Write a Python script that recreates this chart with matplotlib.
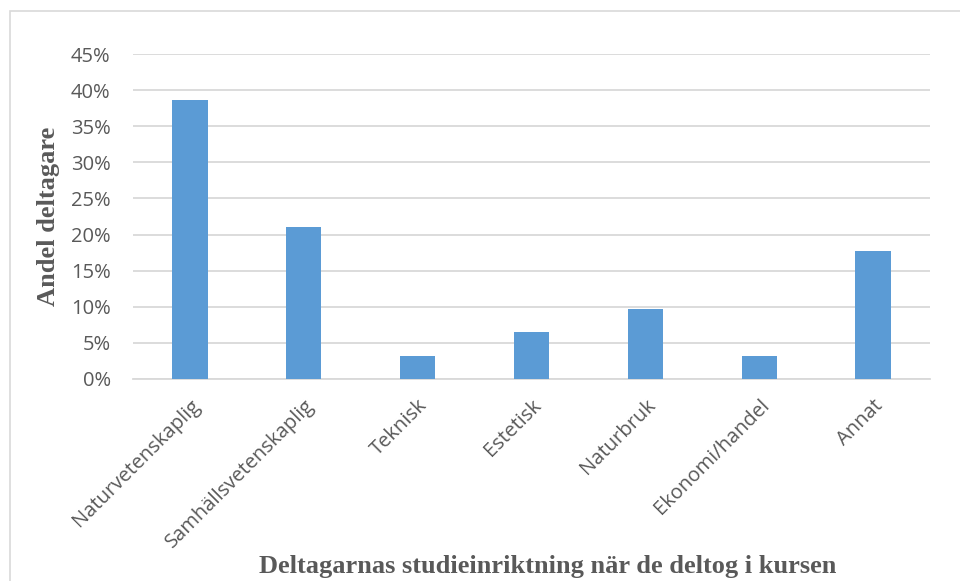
import matplotlib
matplotlib.use('Agg')
import matplotlib.pyplot as plt
from matplotlib.patches import Rectangle
from matplotlib.ticker import FuncFormatter, MultipleLocator

# Share of participants per study programme
categories = ['Naturvetenskaplig', 'Samhällsvetenskaplig', 'Teknisk', 'Estetisk',
              'Naturbruk', 'Ekonomi/handel', 'Annat']
shares = [0.387, 0.210, 0.032, 0.0645, 0.097, 0.032, 0.177]

BAR = '#5b9bd5'
GRID = '#d9d9d9'
TXT = '#595959'

fig = plt.figure(figsize=(9.6, 5.81), dpi=100)
ax = fig.add_axes([0.1385, 0.3477, 0.8302, 0.5593])

x = range(len(categories))
ax.bar(x, shares, width=0.31, color=BAR, zorder=3)

ax.set_xlim(-0.5, len(categories) - 0.5)
ax.set_ylim(0, 0.45)
ax.yaxis.set_major_locator(MultipleLocator(0.05))
ax.yaxis.set_major_formatter(FuncFormatter(lambda v, pos: f"{v * 100:.0f}%"))
ax.grid(axis='y', color=GRID, linewidth=1.3, zorder=0)

for s in ['top', 'right', 'left']:
    ax.spines[s].set_visible(False)
ax.spines['bottom'].set_color(GRID)
ax.spines['bottom'].set_linewidth(1.3)
ax.tick_params(axis='both', length=0, colors=TXT, labelsize=14.5)
ax.tick_params(axis='y', pad=16)
for lab in ax.get_yticklabels():
    lab.set_fontfamily('Open Sans')

ax.set_xticks(list(x))
ax.set_xticklabels(categories, rotation=45, ha='right', rotation_mode='anchor',
                   fontfamily='Open Sans', fontsize=14.5, color=TXT)
ax.tick_params(axis='x', pad=12)

fig.text(49 / 960, 1 - 216 / 581, 'Andel deltagare', rotation=90, ha='center', va='center',
         fontfamily='Liberation Serif', fontweight='bold', fontsize=19, color=TXT)
fig.text(0.57, 0.005, 'Deltagarnas studieinriktning när de deltog i kursen',
         ha='center', va='bottom', fontfamily='Liberation Serif', fontweight='bold',
         fontsize=19, color=TXT)

# chart border, cut off on the right and bottom like the reference
fig.patches.append(Rectangle((10 / 960, -0.05), 1.0, 1 - 11 / 581 + 0.05,
                             transform=fig.transFigure, fill=False,
                             edgecolor=GRID, linewidth=1.2))

fig.savefig('out.png', dpi=100)
